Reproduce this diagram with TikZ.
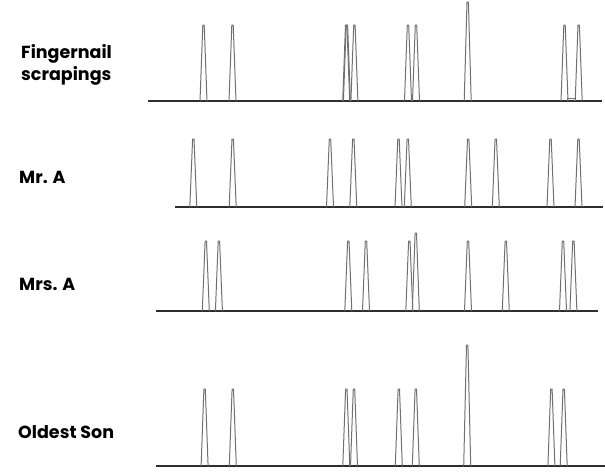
\documentclass[tikz,border=0pt]{standalone}
\usepackage{fontspec}
\newfontfamily\labelfont{Poppins}
\usepackage{tikz}
\definecolor{peakgray}{HTML}{707070}
\definecolor{axisgray}{HTML}{2E2E2E}
\newcommand{\peak}[3]{\draw[peakline] (#1-3.5,#2) -- (#1-0.7,#3) -- (#1+0.7,#3) -- (#1+3.5,#2);}

\begin{document}
\begin{tikzpicture}[x=1pt, y=-1pt,
    peakline/.style={peakgray, line width=1pt, line join=round},
    axisline/.style={axisgray, line width=1.3pt},
    rowlabel/.style={font=\labelfont\bfseries\fontsize{17.5}{22}\selectfont, inner sep=0pt, anchor=base west, align=left}]

    \useasboundingbox (0,0) rectangle (605,475);

    % labels
    \node[rowlabel] (fnail) at (21,80) {Fingernail\\scrapings};
    \node[rowlabel] (mra) at (19,183) {Mr. A};
    \node[rowlabel] (mrsa) at (19,290) {Mrs. A};
    \node[rowlabel] (son) at (18,438) {Oldest Son};

    % fingernail scrapings
    \draw[axisline] (148,101) -- (602,101);
    \peak{203.5}{101}{25}
    \peak{232.5}{101}{25}
    \peak{346.2}{101}{25}
    \peak{346.9}{101}{25}
    \peak{354.4}{101}{25}
    \peak{408}{101}{25}
    \peak{416}{101}{25}
    \peak{467.7}{101}{2}
    \peak{564.5}{101}{25}
    \peak{578.7}{101}{25}
    \draw[peakline] (567.7,101) -- (567.7,98) -- (575,98) -- (575,101);
    \draw[axisline] (344,101.5) -- (356,101.5);

    % Mr. A
    \draw[axisline] (175,207) -- (603,207);
    \peak{193.3}{207}{139}
    \peak{232.7}{207}{139}
    \peak{330}{207}{139}
    \peak{353.3}{207}{139}
    \peak{398.5}{207}{139}
    \peak{407.8}{207}{139}
    \peak{468.2}{207}{139}
    \peak{495.8}{207}{139}
    \peak{550.5}{207}{139}
    \peak{578.5}{207}{139}

    % Mrs. A
    \draw[axisline] (156,311) -- (598,311);
    \peak{205.8}{311}{241}
    \peak{218.9}{311}{241}
    \peak{348.3}{311}{241}
    \peak{366}{311}{241}
    \peak{409.3}{311}{241}
    \peak{415.8}{311}{233}
    \peak{468}{311}{241}
    \peak{505.8}{311}{241}
    \peak{563}{311}{241}
    \peak{573.4}{311}{241}

    % oldest son
    \draw[axisline] (155.6,466) -- (605,466);
    \peak{204.6}{466}{389}
    \peak{232.8}{466}{389}
    \peak{346.3}{466}{389}
    \peak{354}{466}{389}
    \peak{398.8}{466}{389}
    \peak{415.8}{466}{389}
    \peak{467.2}{466}{345}
    \peak{551.4}{466}{389}
    \peak{563.7}{466}{389}

\end{tikzpicture}
\end{document}
